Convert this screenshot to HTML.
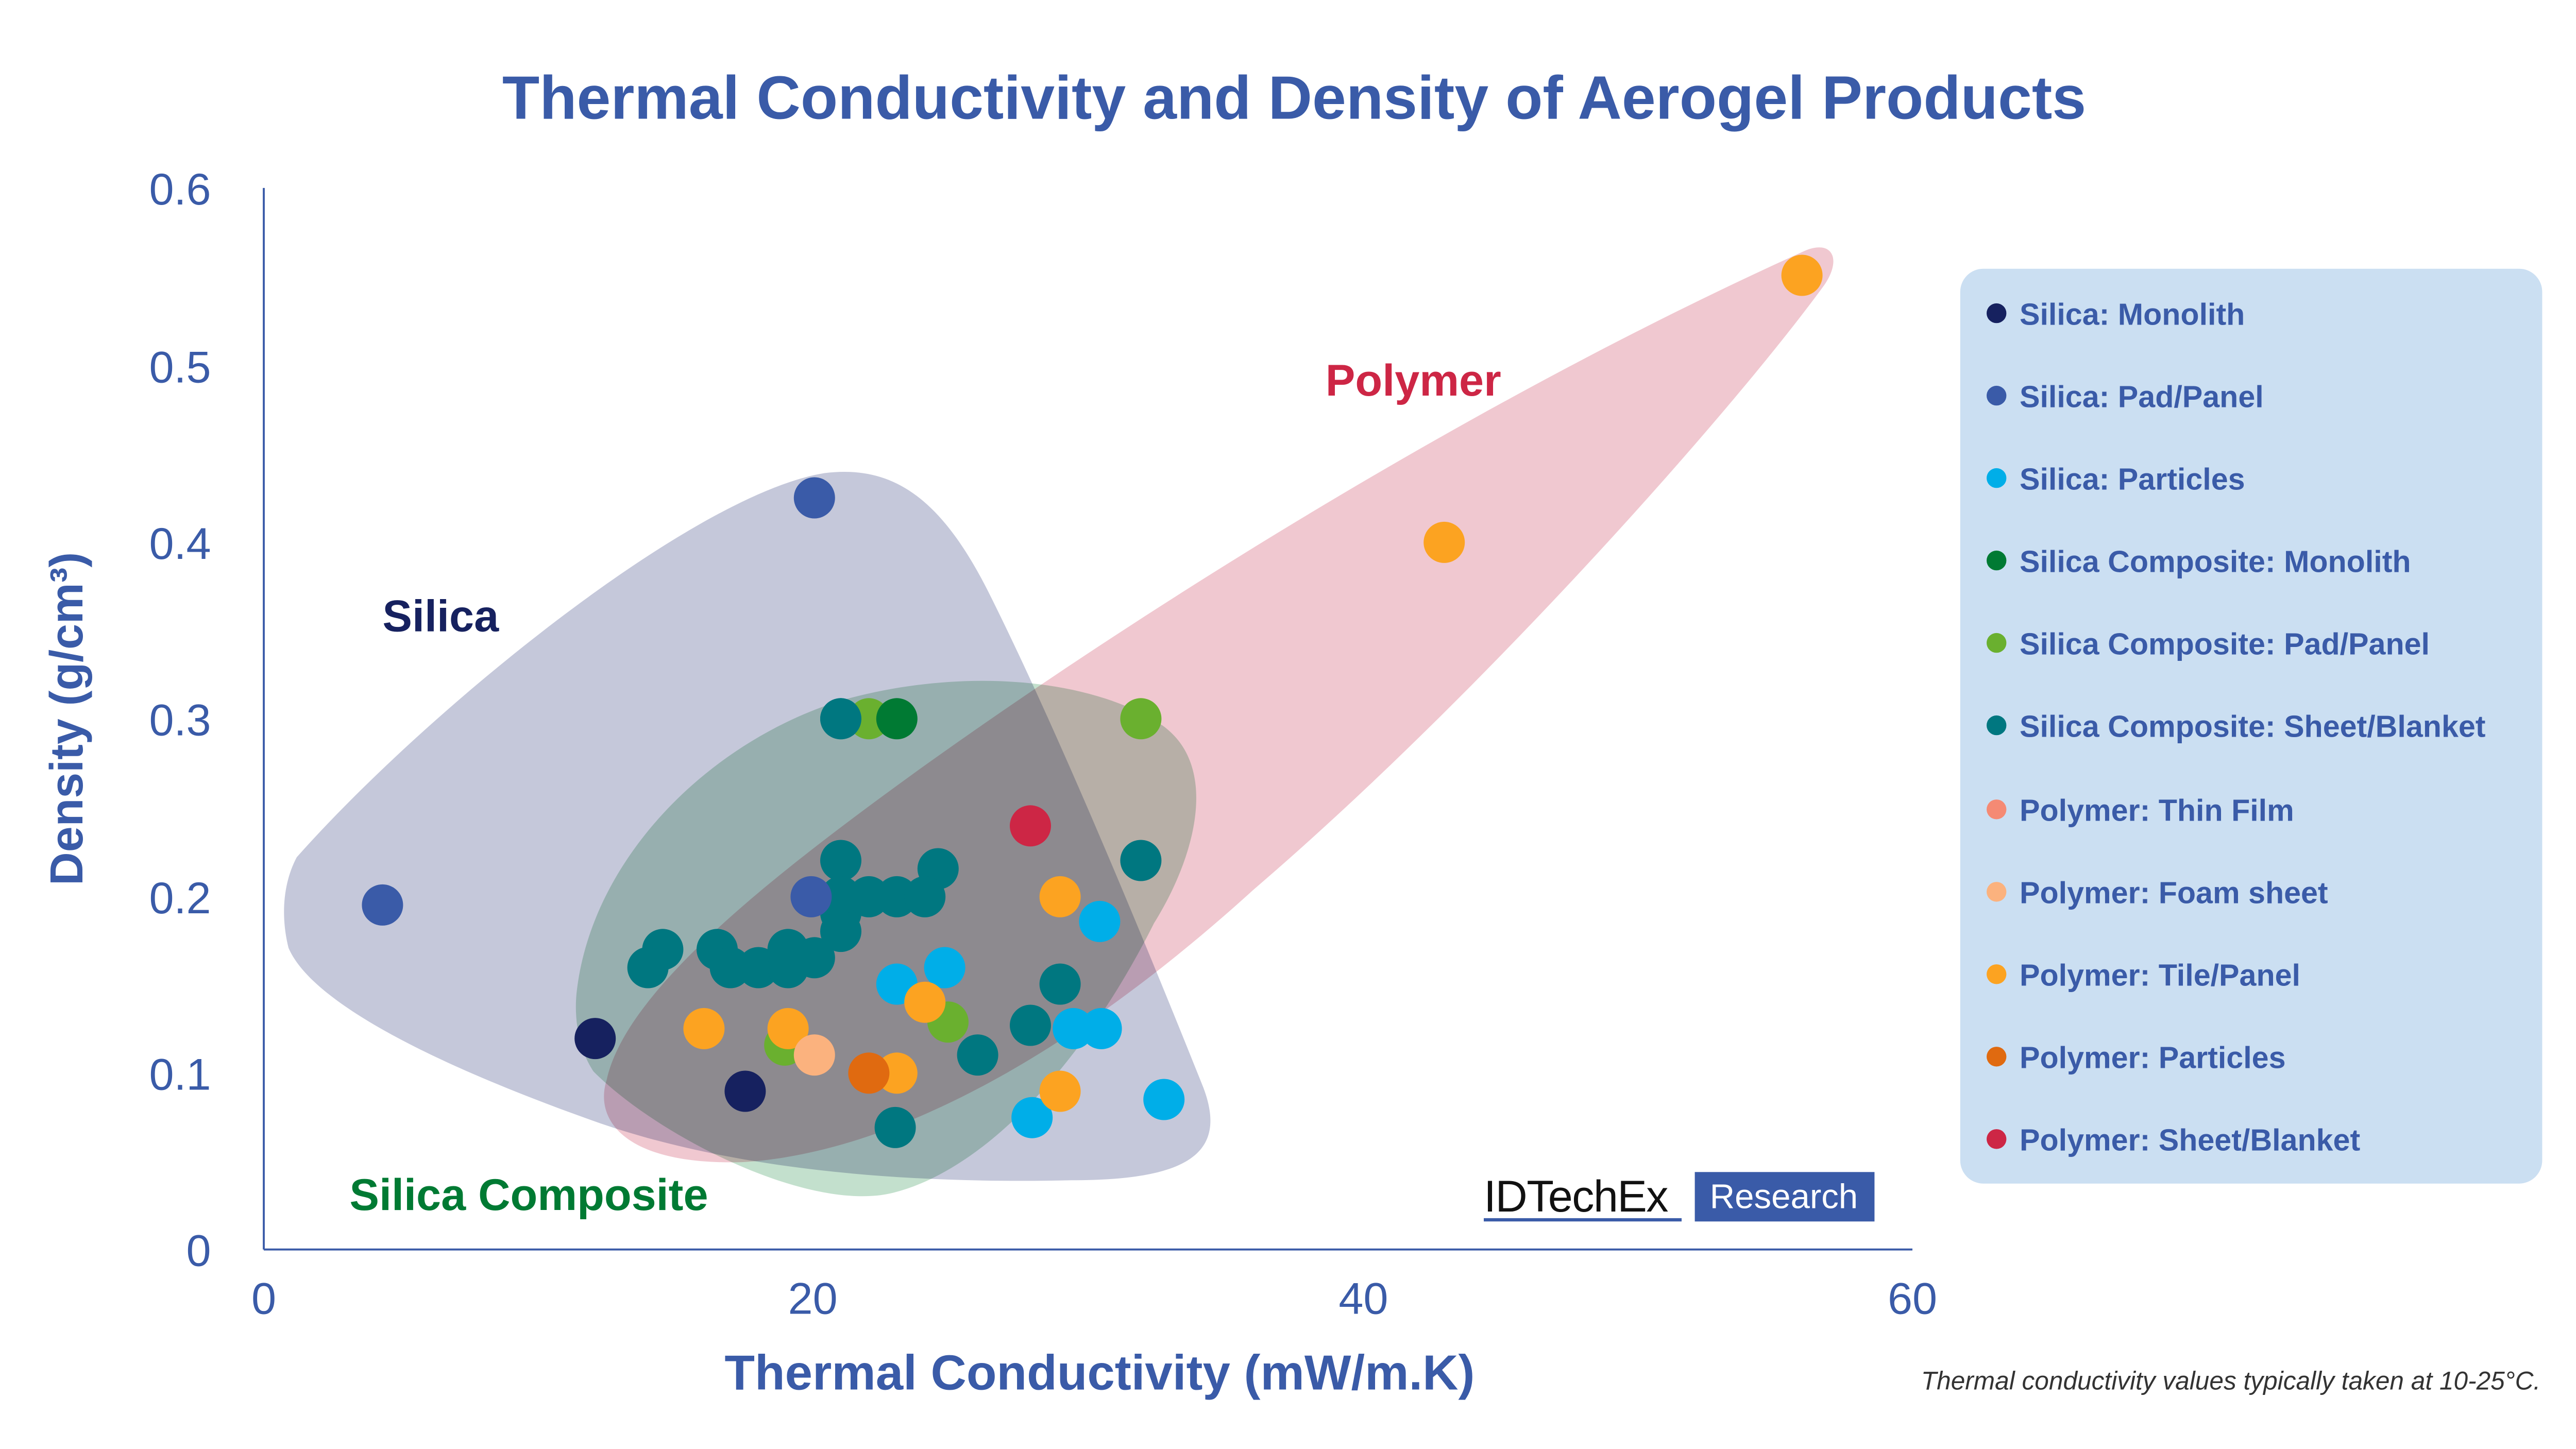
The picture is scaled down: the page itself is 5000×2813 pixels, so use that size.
<!DOCTYPE html>
<html><head><meta charset="utf-8"><style>html,body{margin:0;padding:0;background:#fff}svg{display:block}</style></head>
<body>
<svg width="5000" height="2813" viewBox="0 0 1562.5 879" xmlns="http://www.w3.org/2000/svg" font-family="Liberation Sans, sans-serif">
<rect width="1562.5" height="879" fill="#fff"/>
<text x="785" y="72" text-anchor="middle" font-size="37" font-weight="bold" fill="#3a5ba8">Thermal Conductivity and Density of Aerogel Products</text>
<!-- blobs -->
<g style="isolation:isolate">
<path d="M180,520 C260,430 420,300 500,287 C540,282 570,300 600,360 C640,440 690,560 730,660 C745,700 720,716 650,716 C560,718 450,712 360,680 C270,648 190,610 175,575 C170,555 172,535 180,520 Z" fill="#c5c8da" style="mix-blend-mode:multiply"/>
<path d="M368,655 C380,600 470,530 560,465 C700,365 900,240 1095,152 C1112,145 1118,158 1105,175 C1050,250 900,420 760,540 C650,640 540,700 450,705 C380,707 360,680 368,655 Z" fill="#f0c8d0" style="mix-blend-mode:multiply"/>
<path d="M350,600 C360,520 430,450 510,425 C580,405 660,410 705,440 C740,465 725,520 700,560 C660,640 600,710 540,724 C490,735 400,690 360,650 C350,635 348,615 350,600 Z" fill="#c3e0cd" style="mix-blend-mode:multiply"/>
</g>
<!-- axes -->
<line x1="160" y1="114" x2="160" y2="758" stroke="#3a5ba8" stroke-width="1.2"/>
<line x1="160" y1="758" x2="1160" y2="758" stroke="#3a5ba8" stroke-width="1.2"/>
<g font-size="27" fill="#3a5ba8" text-anchor="end">
<text x="128" y="768">0</text><text x="128" y="661">0.1</text><text x="128" y="554">0.2</text><text x="128" y="446">0.3</text><text x="128" y="339">0.4</text><text x="128" y="232">0.5</text><text x="128" y="124">0.6</text>
</g>
<g font-size="27" fill="#3a5ba8" text-anchor="middle">
<text x="160" y="797">0</text><text x="493" y="797">20</text><text x="827" y="797">40</text><text x="1160" y="797">60</text>
</g>
<text x="667" y="843" text-anchor="middle" font-size="30" font-weight="bold" fill="#3a5ba8">Thermal Conductivity (mW/m.K)</text>
<text transform="translate(50,436) rotate(-90)" text-anchor="middle" font-size="28" font-weight="bold" fill="#3a5ba8">Density (g/cm³)</text>
<text x="1541" y="843" text-anchor="end" font-size="15.5" font-style="italic" fill="#333">Thermal conductivity values typically taken at 10-25°C.</text>
<text x="232" y="383" font-size="27" font-weight="bold" fill="#16215f">Silica</text>
<text x="804" y="240" font-size="27" font-weight="bold" fill="#cd2645">Polymer</text>
<text x="212" y="734" font-size="27" font-weight="bold" fill="#007a33">Silica Composite</text>
<!-- dots -->
<g>
<g fill="#007780">
<circle cx="510" cy="436" r="12.5"/><circle cx="510" cy="522" r="12.5"/><circle cx="569" cy="527" r="12.5"/><circle cx="510" cy="544" r="12.5"/><circle cx="510" cy="554" r="12.5"/><circle cx="527" cy="544" r="12.5"/><circle cx="544" cy="544" r="12.5"/><circle cx="561" cy="544" r="12.5"/><circle cx="510" cy="565" r="12.5"/><circle cx="402" cy="576" r="12.5"/><circle cx="393" cy="587" r="12.5"/><circle cx="435" cy="576" r="12.5"/><circle cx="443" cy="587" r="12.5"/><circle cx="460" cy="587" r="12.5"/><circle cx="478" cy="576" r="12.5"/><circle cx="478" cy="587" r="12.5"/><circle cx="494" cy="581" r="12.5"/><circle cx="543" cy="684" r="12.5"/><circle cx="593" cy="640" r="12.5"/><circle cx="625" cy="622" r="12.5"/><circle cx="643" cy="597" r="12.5"/><circle cx="692" cy="522" r="12.5"/>
</g>
<circle cx="527" cy="436" r="12.5" fill="#6ab02f"/><circle cx="544" cy="436" r="12.5" fill="#007a33"/><circle cx="510" cy="436" r="12.5" fill="#007780"/>
<circle cx="692" cy="436" r="12.5" fill="#6ab02f"/><circle cx="476" cy="634" r="12.5" fill="#6ab02f"/><circle cx="575" cy="620" r="12.5" fill="#6ab02f"/>
<circle cx="361" cy="630" r="12.5" fill="#16215f"/><circle cx="452" cy="662" r="12.5" fill="#16215f"/>
<circle cx="232" cy="549" r="12.5" fill="#3a5ba8"/><circle cx="494" cy="302" r="12.5" fill="#3a5ba8"/><circle cx="492" cy="544" r="12.5" fill="#3a5ba8"/>
<g fill="#00aee8"><circle cx="544" cy="597" r="12.5"/><circle cx="573" cy="587" r="12.5"/><circle cx="667" cy="559" r="12.5"/><circle cx="626" cy="678" r="12.5"/><circle cx="651" cy="624" r="12.5"/><circle cx="668" cy="624" r="12.5"/><circle cx="706" cy="667" r="12.5"/></g>
<g fill="#fca321"><circle cx="1093" cy="167" r="12.5"/><circle cx="876" cy="329" r="12.5"/><circle cx="427" cy="624" r="12.5"/><circle cx="478" cy="624" r="12.5"/><circle cx="561" cy="608" r="12.5"/><circle cx="544" cy="651" r="12.5"/><circle cx="643" cy="544" r="12.5"/><circle cx="643" cy="662" r="12.5"/></g>
<circle cx="494" cy="640" r="12.5" fill="#fbb27e"/>
<circle cx="527" cy="651" r="12.5" fill="#e06a10"/>
<circle cx="625" cy="501" r="12.5" fill="#cd2645"/>
</g>
<!-- logo -->
<text x="900" y="735" font-size="27" fill="#111" letter-spacing="-0.5">IDTechEx</text>
<line x1="900" y1="740" x2="1020" y2="740" stroke="#3a5ba8" stroke-width="2"/>
<rect x="1028" y="711" width="109" height="30" fill="#3a5ba8"/>
<text x="1082" y="733" text-anchor="middle" font-size="21" fill="#fff">Research</text>
<!-- legend -->
<rect x="1189" y="163" width="353" height="555" rx="14" fill="#cbdff2"/>
<g font-size="18.5" font-weight="bold" fill="#3a5ba8">
<circle cx="1211" cy="190" r="6" fill="#16215f"/><text x="1225" y="197">Silica: Monolith</text>
<circle cx="1211" cy="240" r="6" fill="#3a5ba8"/><text x="1225" y="247">Silica: Pad/Panel</text>
<circle cx="1211" cy="290" r="6" fill="#00aee8"/><text x="1225" y="297">Silica: Particles</text>
<circle cx="1211" cy="340" r="6" fill="#007a33"/><text x="1225" y="347">Silica Composite: Monolith</text>
<circle cx="1211" cy="390" r="6" fill="#6ab02f"/><text x="1225" y="397">Silica Composite: Pad/Panel</text>
<circle cx="1211" cy="440" r="6" fill="#007780"/><text x="1225" y="447">Silica Composite: Sheet/Blanket</text>
<circle cx="1211" cy="491" r="6" fill="#f58a74"/><text x="1225" y="498">Polymer: Thin Film</text>
<circle cx="1211" cy="541" r="6" fill="#fbb27e"/><text x="1225" y="548">Polymer: Foam sheet</text>
<circle cx="1211" cy="591" r="6" fill="#fca321"/><text x="1225" y="598">Polymer: Tile/Panel</text>
<circle cx="1211" cy="641" r="6" fill="#e06a10"/><text x="1225" y="648">Polymer: Particles</text>
<circle cx="1211" cy="691" r="6" fill="#cd2645"/><text x="1225" y="698">Polymer: Sheet/Blanket</text>
</g>
</svg>
</body></html>
